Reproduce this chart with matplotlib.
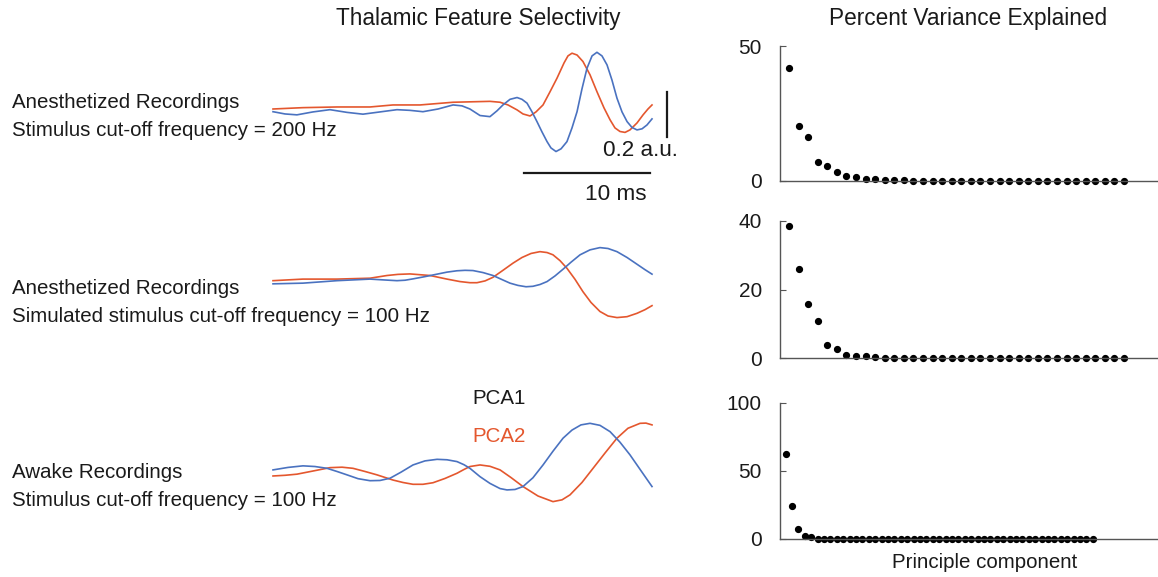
import matplotlib
matplotlib.use("Agg")
import matplotlib.pyplot as plt

plt.rcParams['font.family'] = ['Liberation Sans', 'DejaVu Sans']

BLUE = '#4a72c0'
RED = '#e4572e'

# --- waveforms (time in ms, amplitude in a.u.) ---
t_blue_200 = [0.00, 0.95, 1.90, 3.17, 4.52, 5.87, 7.14, 8.49, 9.84, 10.87, 11.90, 13.10,
              14.29, 15.00, 15.63, 16.43, 17.22, 17.78, 18.25, 18.81, 19.37, 19.76, 20.16,
              20.56, 20.95, 21.35, 21.75, 22.06, 22.46, 22.86, 23.33, 23.73, 24.13, 24.52,
              24.92, 25.32, 25.71, 26.11, 26.51, 26.90, 27.30, 27.70, 28.10, 28.49, 28.89,
              29.29, 29.68, 30.08]
v_blue_200 = [-0.008, -0.018, -0.022, -0.009, 0.001, -0.011, -0.019, -0.009, 0.001, -0.002,
              -0.008, 0.004, 0.022, 0.018, 0.004, -0.025, -0.030, -0.004, 0.022, 0.047, 0.055,
              0.047, 0.030, -0.009, -0.052, -0.098, -0.141, -0.169, -0.185, -0.173, -0.141,
              -0.080, -0.008, 0.093, 0.185, 0.240, 0.256, 0.240, 0.200, 0.133, 0.052, -0.009,
              -0.052, -0.078, -0.089, -0.084, -0.067, -0.040]
t_red_200 = [0.00, 2.38, 5.08, 7.70, 9.52, 11.67, 14.29, 17.22, 18.02, 18.65, 19.37, 19.84,
             20.40, 20.87, 21.43, 21.98, 22.54, 23.10, 23.41, 23.73, 24.13, 24.60, 25.16,
             25.71, 26.27, 26.75, 27.14, 27.54, 27.94, 28.33, 28.89, 29.37, 29.76, 30.08]
v_red_200 = [0.004, 0.010, 0.013, 0.013, 0.022, 0.022, 0.034, 0.038, 0.034, 0.022, 0.000,
             -0.018, -0.027, -0.009, 0.022, 0.080, 0.141, 0.209, 0.240, 0.252, 0.244, 0.215,
             0.156, 0.081, 0.009, -0.044, -0.080, -0.096, -0.100, -0.089, -0.058, -0.022,
             0.004, 0.022]

t_blue_sim = [0.00, 2.38, 5.08, 7.70, 8.89, 9.84, 10.48, 11.11, 12.06, 13.02, 13.81, 14.60,
              15.24, 15.87, 16.67, 17.46, 18.17, 18.81, 19.44, 20.08, 20.63, 21.19, 21.75,
              22.38, 23.02, 23.65, 24.37, 25.16, 25.95, 26.59, 27.30, 28.10, 28.89, 29.52,
              30.08]
v_blue_sim = [-0.013, -0.010, 0.001, 0.008, 0.004, 0.001, 0.003, 0.009, 0.019, 0.030, 0.039,
              0.045, 0.047, 0.046, 0.037, 0.024, 0.006, -0.010, -0.020, -0.026, -0.024, -0.016,
              -0.003, 0.022, 0.052, 0.083, 0.116, 0.138, 0.148, 0.144, 0.130, 0.104, 0.074,
              0.050, 0.030]
t_red_sim = [0.00, 2.38, 5.08, 7.70, 9.05, 9.92, 10.87, 12.46, 13.81, 14.84, 15.63, 16.19,
             16.83, 17.46, 18.25, 19.05, 19.76, 20.48, 21.19, 21.75, 22.22, 22.78, 23.33,
             23.97, 24.60, 25.24, 25.95, 26.59, 27.30, 28.10, 28.89, 29.52, 30.08]
v_red_sim = [0.001, 0.008, 0.008, 0.012, 0.024, 0.029, 0.031, 0.024, 0.008, -0.003, -0.008,
             -0.008, 0.000, 0.016, 0.047, 0.079, 0.104, 0.122, 0.130, 0.126, 0.116, 0.090,
             0.056, 0.007, -0.048, -0.096, -0.136, -0.156, -0.163, -0.159, -0.144, -0.128,
             -0.110]

t_blue_awake = [0.00, 1.19, 2.38, 3.33, 4.29, 5.08, 5.87, 6.75, 7.70, 8.49, 9.29, 10.16,
                11.11, 12.06, 13.02, 13.81, 14.60, 15.16, 15.63, 16.43, 17.22, 18.02, 18.57,
                19.21, 19.84, 20.63, 21.43, 22.22, 23.02, 23.73, 24.44, 25.16, 25.95, 26.75,
                27.54, 28.33, 29.21, 30.08]
v_blue_awake = [0.009, 0.020, 0.027, 0.024, 0.016, 0.002, -0.013, -0.030, -0.039, -0.038,
                -0.028, -0.001, 0.031, 0.049, 0.056, 0.054, 0.046, 0.032, 0.016, -0.021, -0.051,
                -0.074, -0.080, -0.078, -0.065, -0.026, 0.031, 0.092, 0.150, 0.186, 0.209,
                0.216, 0.207, 0.179, 0.132, 0.076, 0.005, -0.065]
t_red_awake = [0.00, 0.95, 1.90, 3.17, 4.52, 5.48, 6.35, 7.30, 8.25, 9.52, 10.32, 11.11,
               11.90, 12.70, 13.65, 14.60, 15.16, 15.63, 16.43, 17.22, 18.02, 18.89, 19.84,
               21.03, 22.22, 22.94, 23.57, 24.52, 25.40, 26.35, 27.30, 28.17, 29.13, 29.60,
               30.08]
v_red_awake = [-0.018, -0.015, -0.010, 0.004, 0.019, 0.021, 0.016, 0.002, -0.013, -0.036,
               -0.047, -0.055, -0.055, -0.048, -0.029, -0.006, 0.011, 0.024, 0.031, 0.025,
               0.009, -0.025, -0.065, -0.107, -0.132, -0.124, -0.102, -0.047, 0.016, 0.084,
               0.150, 0.194, 0.216, 0.217, 0.209]

# --- percent variance explained per principal component ---
pve_200 = [41.9, 20.3, 16.3, 6.9, 5.5, 3.4, 2.0, 1.4, 0.9, 0.7, 0.3, 0.2, 0.2, 0.1, 0.1, 0.1,
           0.1, 0.1, 0.0, 0.0, 0.0, 0.0, 0.0, 0.0, 0.0, 0.0, 0.0, 0.0, 0.0, 0.0, 0.0, 0.0,
           0.0, 0.0, 0.0, 0.0]
pve_sim = [38.4, 25.9, 15.9, 10.7, 3.7, 2.7, 1.0, 0.5, 0.5, 0.2, 0.1, 0.1, 0.1, 0.0, 0.0, 0.0,
           0.0, 0.0, 0.0, 0.0, 0.0, 0.0, 0.0, 0.0, 0.0, 0.0, 0.0, 0.0, 0.0, 0.0, 0.0, 0.0,
           0.0, 0.0, 0.0, 0.0]
pve_awake = [62.6, 24.0, 7.1, 2.4, 1.7, 0.2, 0.1, 0.0, 0.0, 0.0, 0.0, 0.0, 0.0, 0.0, 0.0, 0.0,
             0.0, 0.0, 0.0, 0.0, 0.0, 0.0, 0.0, 0.0, 0.0, 0.0, 0.0, 0.0, 0.0, 0.0, 0.0, 0.0,
             0.0, 0.0, 0.0, 0.0, 0.0, 0.0, 0.0, 0.0, 0.0, 0.0, 0.0, 0.0, 0.0, 0.0, 0.0, 0.0,
             0.0]

W, H = 1158, 577
fig = plt.figure(figsize=(W / 100, H / 100), dpi=100)


def fx(x):
    return x / W


def fy(y):
    return 1 - y / H


def label(x, y, s, **kw):
    kw.setdefault('fontsize', 14.8)
    kw.setdefault('va', 'center')
    kw.setdefault('color', '#1a1a1a')
    fig.text(fx(x), fy(y), s, **kw)


# left panel: traces stacked in one axes, ms on x, a.u. on y
ax = fig.add_axes([0, 0, 700 / W, 1])
ax.set_xlim(-273 / 12.6, (700 - 273) / 12.6)
ax.set_ylim(0, H / 225)
ax.axis('off')

offsets = [2.076, 1.316, 0.467]
traces = [
    (t_blue_200, v_blue_200, t_red_200, v_red_200),
    (t_blue_sim, v_blue_sim, t_red_sim, v_red_sim),
    (t_blue_awake, v_blue_awake, t_red_awake, v_red_awake),
]
for off, (tb, vb, tr, vr) in zip(offsets, traces):
    ax.plot(tr, [off + v for v in vr], color=RED, lw=1.2, solid_joinstyle='round')
    ax.plot(tb, [off + v for v in vb], color=BLUE, lw=1.2, solid_joinstyle='round')

# scale bars
ax.plot([31.27, 31.27], [1.956, 2.156], color='#1a1a1a', lw=1.6)
ax.plot([19.92, 29.92], [1.796, 1.796], color='#1a1a1a', lw=1.6)

label(478, 18, 'Thalamic Feature Selectivity', ha='center', fontsize=16.3)
label(968, 18, 'Percent Variance Explained', ha='center', fontsize=16.3)
label(12, 103, 'Anesthetized Recordings')
label(12, 130, 'Stimulus cut-off frequency = 200 Hz')
label(603, 150, '0.2 a.u.', fontsize=16.2)
label(585, 195, '10 ms', fontsize=16.2)
label(12, 288, 'Anesthetized Recordings')
label(12, 316, 'Simulated stimulus cut-off frequency = 100 Hz')
label(472, 399, 'PCA1')
label(472, 437, 'PCA2', color=RED)
label(12, 472, 'Awake Recordings')
label(12, 500, 'Stimulus cut-off frequency = 100 Hz')
label(985, 563, 'Principle component', ha='center')

# right panels
panels = [
    (pve_200, 46, 181, 50, [0, 50], (0.06, 39.56)),
    (pve_sim, 221, 358, 40, [0, 20, 40], (0.06, 39.56)),
    (pve_awake, 403, 539, 100, [0, 50, 100], (0.11, 59.2)),
]
for vals, top, bot, ymax, ticks, xl in panels:
    a = fig.add_axes([fx(780), fy(bot), fx(W - 780), (bot - top) / H])
    pcs = list(range(1, len(vals) + 1))
    a.plot(pcs, vals, 'o', color='black', ms=4.2, clip_on=False)
    a.set_ylim(0, ymax)
    a.set_xlim(*xl)
    a.set_yticks(ticks)
    a.set_xticks([])
    a.spines['top'].set_visible(False)
    a.spines['right'].set_visible(False)
    for s in ('left', 'bottom'):
        a.spines[s].set_color('#555555')
        a.spines[s].set_linewidth(1.0)
    a.tick_params(axis='y', direction='in', length=4, pad=13, labelsize=15,
                  color='#555555', labelcolor='#1a1a1a')
    a.patch.set_alpha(0)

fig.savefig('out.png', dpi=100)
